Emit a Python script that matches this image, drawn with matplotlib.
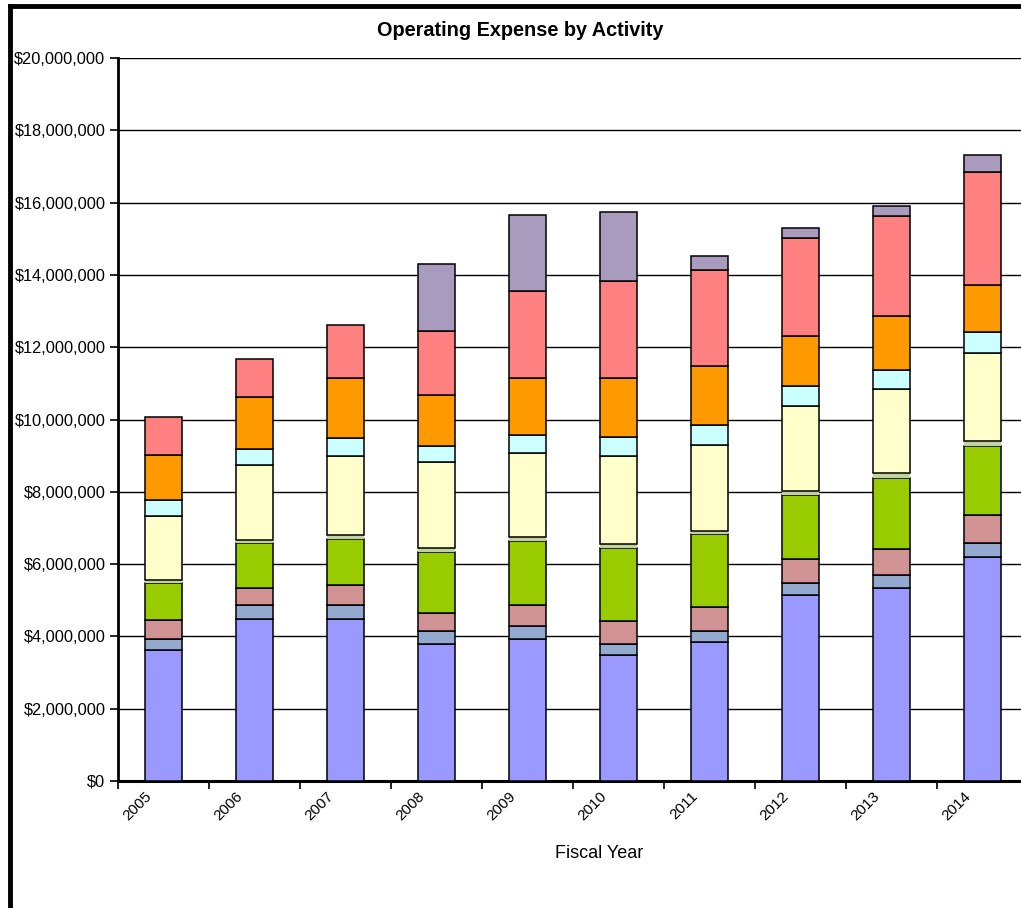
import matplotlib
matplotlib.use("Agg")
import matplotlib.pyplot as plt
import matplotlib.transforms as mtransforms
from matplotlib.lines import Line2D
from matplotlib.ticker import FuncFormatter, FixedLocator
import numpy as np

plt.rcParams['font.family'] = ['Liberation Sans', 'DejaVu Sans']

years = ['2005', '2006', '2007', '2008', '2009', '2010', '2011', '2012', '2013', '2014']

# segment values in millions, bottom to top
seg_blue   = [3.62, 4.48, 4.48, 3.78, 3.93, 3.48, 3.85, 5.15, 5.33, 6.20]
seg_slate  = [0.31, 0.38, 0.39, 0.38, 0.37, 0.32, 0.31, 0.32, 0.37, 0.38]
seg_pink   = [0.52, 0.49, 0.54, 0.50, 0.56, 0.62, 0.64, 0.68, 0.71, 0.78]
seg_green  = [1.02, 1.23, 1.29, 1.67, 1.79, 2.03, 2.03, 1.75, 1.98, 1.91]
seg_grey   = [0.09, 0.08, 0.10, 0.12, 0.10, 0.10, 0.09, 0.11, 0.12, 0.14]
seg_yellow = [1.77, 2.07, 2.20, 2.38, 2.32, 2.45, 2.38, 2.37, 2.34, 2.44]
seg_cyan   = [0.45, 0.45, 0.48, 0.45, 0.51, 0.52, 0.56, 0.56, 0.53, 0.57]
seg_orange = [1.25, 1.43, 1.67, 1.40, 1.57, 1.63, 1.61, 1.38, 1.48, 1.30]
seg_red    = [1.04, 1.06, 1.47, 1.77, 2.40, 2.67, 2.66, 2.70, 2.76, 3.13]
seg_purple = [0.00, 0.00, 0.00, 1.85, 2.10, 1.91, 0.40, 0.27, 0.29, 0.46]

series = [
    (seg_blue,   '#9999FF'),
    (seg_slate,  '#93A9CF'),
    (seg_pink,   '#D09292'),
    (seg_green,  '#99CC00'),
    (seg_grey,   '#C2D1A2'),
    (seg_yellow, '#FFFFCC'),
    (seg_cyan,   '#CCFFFF'),
    (seg_orange, '#FF9900'),
    (seg_red,    '#FF8080'),
    (seg_purple, '#A99BBD'),
]

W, H = 1021, 908
fig = plt.figure(figsize=(W / 100, H / 100), dpi=100)
fig.patch.set_facecolor('white')

left, right, top, bottom = 118, 1028, 58, 781
ax = fig.add_axes([left / W, 1 - bottom / H, (right - left) / W, (bottom - top) / H])

x = np.arange(len(years))
base = np.zeros(len(years))
for vals, col in series:
    v = np.array(vals) * 1e6
    if col == '#C2D1A2':
        ax.bar(x, v, 0.41, bottom=base, color=col, edgecolor='none', linewidth=0, zorder=3)
    else:
        mask = v > 0
        ax.bar(x[mask], v[mask], 0.41, bottom=base[mask], color=col,
               edgecolor='black', linewidth=1.1, zorder=3)
    base += v

ax.set_xlim(-0.5, 9.5)
ax.set_ylim(0, 20e6)
ax.set_yticks(np.arange(0, 20e6 + 1, 2e6))
ax.yaxis.set_major_formatter(FuncFormatter(lambda v, p: '${:,.0f}'.format(v)))
ax.yaxis.grid(True, color='black', linewidth=1.0, zorder=1)
ax.set_axisbelow(True)

ax.set_xticks(x)
ax.set_xticklabels(years, rotation=45, ha='right', fontsize=11)
ax.xaxis.set_minor_locator(FixedLocator(np.arange(-0.5, 10, 1)))
ax.tick_params(axis='x', which='major', length=0, pad=6)
ax.tick_params(axis='x', which='minor', length=6, width=1.2, direction='out')
ax.tick_params(axis='y', length=6, width=1.2, direction='out', labelsize=11.8, pad=3)
offset = mtransforms.ScaledTranslation(-9 / 100, 0, fig.dpi_scale_trans)
for lab in ax.get_xticklabels():
    lab.set_transform(lab.get_transform() + offset)

for s in ['top', 'right']:
    ax.spines[s].set_visible(False)
ax.spines['left'].set_linewidth(2)
ax.spines['bottom'].set_linewidth(2.2)

fig.text(520 / W, 1 - 30 / H, 'Operating Expense by Activity', ha='center', va='center',
         fontsize=14.3, fontweight='bold')
fig.text(599 / W, 1 - 854 / H, 'Fiscal Year', ha='center', va='center', fontsize=13)

# outer chart frame (left and top edges)
fig.add_artist(Line2D([10 / W, 10 / W], [0, 1 - 6 / H], color='black', linewidth=3.5,
                      transform=fig.transFigure, solid_capstyle='projecting'))
fig.add_artist(Line2D([10 / W, 1], [1 - 6 / H, 1 - 6 / H], color='black', linewidth=3.5,
                      transform=fig.transFigure, solid_capstyle='projecting'))

fig.savefig('out.png', dpi=100)
